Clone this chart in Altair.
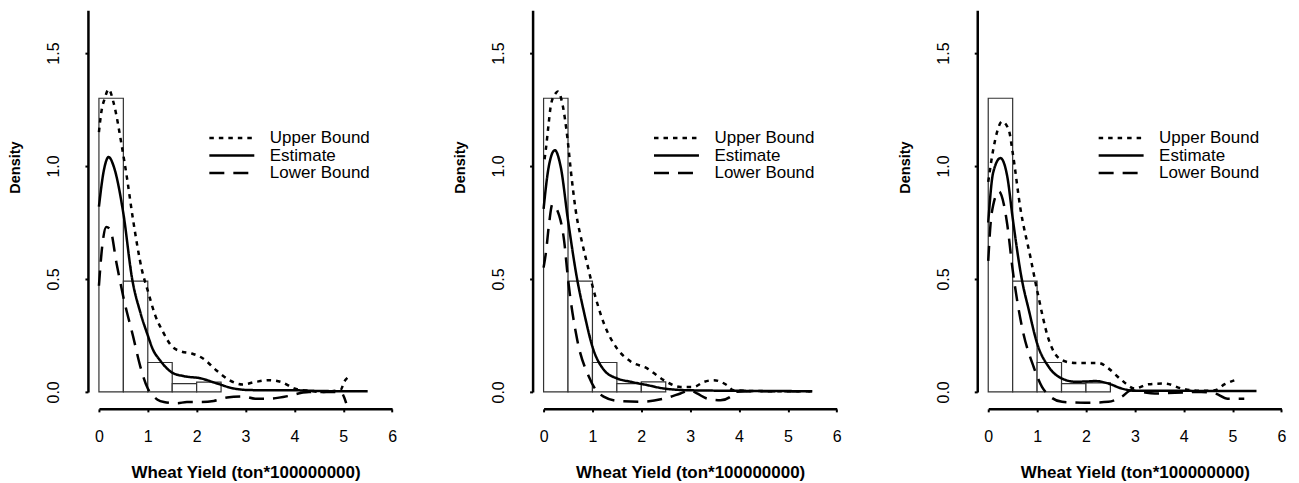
import altair as alt
import pandas as pd

FONT = "Liberation Sans"

# Histogram (same bins in every panel)
bin_left = [0.0, 0.5, 1.0, 1.5, 2.0]
bin_right = [0.5, 1.0, 1.5, 2.0, 2.5]
hist_1 = [1.30, 0.49, 0.13, 0.037, 0.043]
hist_2 = [1.30, 0.49, 0.13, 0.037, 0.044]
hist_3 = [1.30, 0.49, 0.13, 0.037, 0.040]

# Panel 1 curves
est1_x = [0, 0.1, 0.2, 0.3, 0.5, 0.68, 0.85, 1.0, 1.1, 1.25, 1.5, 1.73, 2.08, 2.42, 2.76, 3.1, 3.6, 4.0, 4.5, 5.0, 5.5]
est1_y = [0.82, 0.98, 1.04, 1.0, 0.79, 0.5, 0.35, 0.25, 0.19, 0.14, 0.085, 0.07, 0.06, 0.037, 0.015, 0.008, 0.007, 0.007, 0.004, 0.003, 0.003]
up1_x = [0, 0.05, 0.12, 0.2, 0.3, 0.47, 0.57, 0.7, 0.88, 1.01, 1.15, 1.3, 1.5, 1.67, 1.9, 2.13, 2.4, 2.67, 2.94, 3.2, 3.47, 3.74, 4.0, 4.27, 4.6, 4.95, 5.02, 5.1]
up1_y = [1.15, 1.24, 1.3, 1.34, 1.28, 1.086, 0.953, 0.76, 0.54, 0.44, 0.34, 0.27, 0.2, 0.18, 0.17, 0.148, 0.096, 0.052, 0.033, 0.044, 0.052, 0.043, 0.015, 0.005, 0.0, 0.01, 0.045, 0.065]
lo1_x = [0, 0.07, 0.15, 0.23, 0.36, 0.5, 0.7, 0.85, 1.0, 1.1, 1.2, 1.33, 1.6, 1.8, 2.08, 2.35, 2.62, 2.95, 3.2, 3.47, 3.88, 4.15, 4.3, 4.6, 4.95, 5.02, 5.06]
lo1_y = [0.47, 0.65, 0.73, 0.72, 0.57, 0.42, 0.245, 0.11, 0.015, -0.015, -0.035, -0.045, -0.05, -0.045, -0.045, -0.04, -0.025, -0.02, -0.03, -0.03, -0.018, -0.004, 0.0, 0.0, 0.0, -0.025, -0.05]

# Panel 2 curves
est2_x = [0, 0.1, 0.23, 0.35, 0.5, 0.69, 0.83, 1.0, 1.24, 1.51, 1.78, 2.12, 2.46, 3.0, 3.82, 4.5, 5.49]
est2_y = [0.81, 0.99, 1.07, 0.997, 0.76, 0.495, 0.35, 0.2, 0.096, 0.059, 0.045, 0.03, 0.015, 0.007, 0.005, 0.004, 0.003]
up2_x = [0.02, 0.05, 0.1, 0.15, 0.24, 0.29, 0.39, 0.49, 0.56, 0.66, 0.8, 0.9, 1.0, 1.24, 1.51, 1.78, 2.12, 2.46, 2.8, 3.07, 3.28, 3.48, 3.75, 3.89, 4.3, 5.0, 5.5]
up2_y = [1.03, 1.08, 1.18, 1.27, 1.32, 1.33, 1.27, 1.12, 0.975, 0.8, 0.65, 0.56, 0.47, 0.3, 0.19, 0.135, 0.104, 0.052, 0.022, 0.022, 0.044, 0.052, 0.03, 0.007, 0.004, 0.003, 0.003]
lo2_x = [0, 0.05, 0.115, 0.18, 0.32, 0.42, 0.5, 0.69, 0.93, 1.1, 1.24, 1.51, 1.99, 2.46, 2.8, 3.0, 3.14, 3.35, 3.62, 3.82, 3.9, 4.3, 5.0, 5.5]
lo2_y = [0.55, 0.62, 0.75, 0.83, 0.78, 0.67, 0.5, 0.229, 0.066, 0.0, -0.022, -0.04, -0.044, -0.03, -0.007, 0.007, -0.007, -0.03, -0.037, -0.022, 0.0, 0.003, 0.003, 0.003]

# Panel 3 curves
est3_x = [0, 0.1, 0.25, 0.39, 0.5, 0.69, 0.83, 1.0, 1.24, 1.51, 1.78, 2.0, 2.19, 2.46, 2.73, 3.0, 3.8, 4.5, 5.49]
est3_y = [0.75, 0.97, 1.035, 0.953, 0.77, 0.495, 0.363, 0.215, 0.11, 0.059, 0.045, 0.046, 0.048, 0.037, 0.015, 0.005, 0.005, 0.004, 0.004]
up3_x = [0, 0.1, 0.18, 0.28, 0.42, 0.5, 0.66, 0.86, 1.0, 1.24, 1.51, 1.78, 2.26, 2.46, 2.73, 3.0, 3.28, 3.62, 3.96, 4.36, 4.64, 4.84, 5.05, 5.1]
up3_y = [0.93, 1.07, 1.15, 1.197, 1.16, 1.06, 0.81, 0.6, 0.45, 0.23, 0.14, 0.128, 0.128, 0.104, 0.052, 0.015, 0.034, 0.037, 0.015, 0.005, 0.007, 0.034, 0.052, 0.055]
lo3_x = [0, 0.07, 0.22, 0.32, 0.39, 0.5, 0.69, 0.93, 1.1, 1.24, 1.51, 1.99, 2.46, 2.73, 2.93, 3.14, 3.41, 3.82, 4.36, 4.64, 4.9, 5.24]
lo3_y = [0.58, 0.79, 0.887, 0.83, 0.74, 0.54, 0.288, 0.11, 0.022, -0.015, -0.044, -0.048, -0.044, -0.022, 0.007, 0.0, -0.007, -0.004, 0.0, -0.007, -0.03, -0.03]

series_order = ["Upper Bound", "Estimate", "Lower Bound"]
x_ticks = [0, 1, 2, 3, 4, 5, 6]
y_ticks = [0.0, 0.5, 1.0, 1.5]
x_title = "Wheat Yield (ton*100000000)"
y_title = "Density"


def panel(hist, curves):
    bars = pd.DataFrame({"x0": bin_left, "x1": bin_right, "h": hist})
    rows = []
    for name, xs, ys in curves:
        for a, b in zip(xs, ys):
            rows.append({"x": a, "y": b, "series": name})
    cdf = pd.DataFrame(rows)

    xsc = alt.Scale(domain=[0, 6], nice=False, zero=False)
    ysc = alt.Scale(domain=[0, 1.69], nice=False, zero=False)
    xax = alt.Axis(values=x_ticks, format="d", title=x_title, offset=17,
                   labelBaseline="middle", labelAlign="center", labelPadding=25,
                   labelFlush=False, titleY=64, titleBaseline="middle",
                   titleFontSize=17)
    yax = alt.Axis(values=y_ticks, format=".1f", title=y_title, offset=11,
                   labelAngle=270, labelAlign="center", labelBaseline="middle",
                   labelPadding=31, labelFlush=False,
                   titleAngle=270, titleX=-72, titleY=157, titleAlign="center",
                   titleBaseline="middle", titleFontSize=14.5)

    bar_layer = alt.Chart(bars).mark_rect(fill="white", stroke="#333333", strokeWidth=1.2).encode(
        x=alt.X("x0:Q", scale=xsc, axis=xax),
        x2="x1:Q",
        y=alt.Y("h:Q", scale=ysc, axis=yax),
        y2=alt.datum(0),
    )
    line_layer = alt.Chart(cdf).mark_line(color="black", strokeWidth=2.5, interpolate="monotone").encode(
        x=alt.X("x:Q", scale=xsc, axis=xax),
        y=alt.Y("y:Q", scale=ysc, axis=yax),
        strokeDash=alt.StrokeDash(
            "series:N",
            scale=alt.Scale(domain=series_order, range=[[4.5, 5], [1, 0], [15, 9]]),
            legend=alt.Legend(title=None, orient="none", legendX=109, legendY=120,
                              symbolType="stroke", symbolSize=2025, symbolStrokeWidth=2.5,
                              symbolStrokeColor="black", clipHeight=16, rowPadding=0.5,
                              labelFont=FONT, labelFontSize=17, labelColor="black",
                              labelOffset=14, padding=0),
        ),
    )
    return alt.layer(bar_layer, line_layer).properties(width=293.4, height=382)


p1 = panel(hist_1, [("Upper Bound", up1_x, up1_y), ("Estimate", est1_x, est1_y), ("Lower Bound", lo1_x, lo1_y)])
p2 = panel(hist_2, [("Upper Bound", up2_x, up2_y), ("Estimate", est2_x, est2_y), ("Lower Bound", lo2_x, lo2_y)])
p3 = panel(hist_3, [("Upper Bound", up3_x, up3_y), ("Estimate", est3_x, est3_y), ("Lower Bound", lo3_x, lo3_y)])

chart = alt.hconcat(p1, p2, p3, spacing=151, bounds="flush").resolve_scale(
    strokeDash="independent"
).resolve_legend(strokeDash="independent").properties(
    padding={"left": 0, "top": 2, "right": 5, "bottom": 0}
).configure_view(strokeWidth=0).configure_axis(
    grid=False, domainColor="black", domainWidth=2.5, tickColor="black", tickWidth=2,
    tickSize=3, labelFont=FONT, labelFontSize=16, labelColor="black",
    titleFont=FONT, titleFontWeight="bold", titleColor="black"
)

chart.save("out.html", embed_options={"renderer": "svg", "actions": False})
